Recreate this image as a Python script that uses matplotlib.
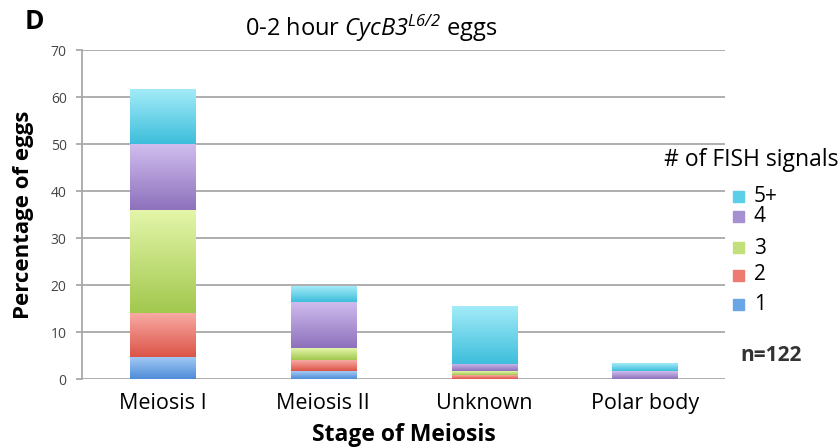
import numpy as np
import matplotlib.pyplot as plt
from matplotlib.patches import Rectangle
from matplotlib.colors import LinearSegmentedColormap

stages = ['Meiosis I', 'Meiosis II', 'Unknown', 'Polar body']
signals = ['1', '2', '3', '4', '5+']
pct_1 = [4.7, 1.7, 0.0, 0.0]
pct_2 = [9.3, 2.3, 0.8, 0.0]
pct_3 = [22.0, 2.5, 0.8, 0.0]
pct_4 = [14.0, 9.8, 1.6, 1.6]
pct_5plus = [11.5, 3.3, 12.3, 1.6]
colors = ['#6aa6e6', '#ee7b72', '#c3df7c', '#a690d2', '#5ccfe8']
# light (top) / dark (bottom) ends of each bar gradient
grad = [('#a4cbf5', '#4f8cd8'), ('#f7aaa2', '#dc5448'), ('#e4f6aa', '#a2c84e'),
        ('#d0bdee', '#8d71bc'), ('#a2ebf8', '#3ebedb')]

plt.rcParams['font.family'] = ['Open Sans', 'DejaVu Sans']
# everything inside $...$ is only the italic gene name, so make math all italic
plt.rcParams['mathtext.fontset'] = 'custom'
plt.rcParams['mathtext.rm'] = 'Open Sans:italic'
plt.rcParams['mathtext.it'] = 'Open Sans:italic'

fig = plt.figure(figsize=(8.39, 4.48), dpi=100)
ax = fig.add_axes([0.0977, 0.154, 0.767, 0.734])

x = list(range(len(stages)))
w = 0.405
bottom = [0.0] * len(stages)
ramp = np.linspace(1, 0, 64).reshape(-1, 1)
for vals, c, (top_c, bot_c) in zip([pct_1, pct_2, pct_3, pct_4, pct_5plus], colors, grad):
    ax.bar(x, vals, bottom=bottom, width=w, color=c, zorder=3)
    cmap = LinearSegmentedColormap.from_list('g', [bot_c, top_c])
    for b, v, xi in zip(bottom, vals, x):
        if v > 0:
            ax.imshow(ramp, cmap=cmap, aspect='auto', zorder=3.5,
                      extent=(xi - w / 2, xi + w / 2, b, b + v))
    bottom = [b + v for b, v in zip(bottom, vals)]

ax.set_xlim(-0.5, 3.5)
ax.set_ylim(0, 70)
ax.set_yticks(range(0, 71, 10))
ax.yaxis.grid(True, color='#a8a8a8', lw=1.3, zorder=0)
for s in ['top', 'right', 'bottom']:
    ax.spines[s].set_visible(False)
ax.spines['left'].set_color('#a8a8a8')
ax.spines['left'].set_linewidth(1.3)
ax.tick_params(axis='y', colors='#a8a8a8', labelcolor='#444444', labelsize=10, length=4, width=1.3, pad=7)
ax.tick_params(axis='x', length=0, labelsize=15.5, pad=10)
ax.set_xticks(x)
ax.set_xticklabels(stages)

ax.set_xlabel('Stage of Meiosis', fontsize=16.5, fontweight='bold')
ax.set_ylabel('Percentage of eggs', fontsize=16, fontweight='bold')
ax.xaxis.set_label_coords(0.5, -0.135)
ax.yaxis.set_label_coords(-0.074, 0.5)
fig.text(0.442, 0.937, r'0-2 hour $\mathit{CycB3}^{\mathit{L6/2}}$ eggs', fontsize=17, ha='center', va='center')
fig.text(0.029, 0.952, 'D', fontsize=19, fontweight='bold', va='center')

# legend drawn by hand
fig.text(0.999, 0.643, '# of FISH signals', fontsize=16.5, ha='right', va='center')
leg_y = [304, 275, 248, 216, 197]
for lab, c, yy in zip(signals, colors, leg_y):
    fy = 1 - yy / 448
    fig.patches.append(Rectangle((733 / 839, fy - 5.5 / 448), 11 / 839, 11 / 448,
                                 transform=fig.transFigure, color=c, figure=fig))
    fig.text(754 / 839, fy, lab, fontsize=15, va='center')
fig.text(740 / 839, 1 - 355 / 448, 'n=122', fontsize=15, fontweight='bold', color='#333333', va='center')

fig.savefig('out.png', dpi=100)
